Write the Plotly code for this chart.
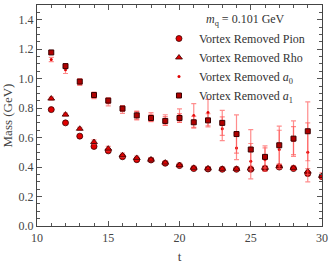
import plotly.graph_objects as go

t = list(range(11, 31))
t_a = list(range(11, 30))

pion = [0.79, 0.70, 0.61, 0.54, 0.51, 0.47, 0.45, 0.448, 0.426, 0.41, 0.39, 0.387, 0.385, 0.385, 0.385, 0.39, 0.40, 0.39, 0.356, 0.335]
pion_err = [0.008, 0.008, 0.008, 0.01, 0.01, 0.01, 0.01, 0.01, 0.01, 0.01, 0.01, 0.01, 0.01, 0.01, 0.012, 0.012, 0.012, 0.012, 0.015, 0.015]
rho = [0.865, 0.756, 0.66, 0.57, 0.525, 0.48, 0.462, 0.45, 0.43, 0.413, 0.395, 0.39, 0.388, 0.388, 0.39, 0.395, 0.405, 0.395, 0.37, 0.34]
rho_err = [0.01, 0.01, 0.01, 0.015, 0.015, 0.015, 0.012, 0.012, 0.012, 0.012, 0.012, 0.012, 0.012, 0.012, 0.015, 0.015, 0.015, 0.015, 0.02, 0.02]
a0 = [1.13, 1.06, 0.975, 0.885, 0.84, 0.79, 0.75, 0.74, 0.72, 0.75, 0.75, 0.77, 0.66, 0.53, 0.44, 0.45, 0.52, 0.58, 0.50]
a0_err = [0.015, 0.025, 0.02, 0.02, 0.025, 0.025, 0.03, 0.03, 0.035, 0.045, 0.08, 0.09, 0.08, 0.08, 0.12, 0.08, 0.13, 0.095, 0.2]
a1 = [1.178, 1.085, 0.98, 0.889, 0.851, 0.797, 0.751, 0.733, 0.713, 0.733, 0.704, 0.717, 0.70, 0.624, 0.519, 0.469, 0.548, 0.593, 0.643]
a1_err = [0.01, 0.015, 0.02, 0.02, 0.02, 0.02, 0.025, 0.025, 0.03, 0.03, 0.04, 0.045, 0.085, 0.13, 0.135, 0.075, 0.13, 0.12, 0.2]

x_ticks = [10, 15, 20, 25, 30]
y_ticks = [0.0, 0.2, 0.4, 0.6, 0.8, 1.0, 1.2, 1.4]
legend_title = "<i>m</i><sub>q</sub> = 0.101 GeV"

FONT = "Liberation Serif"
ERR = "rgba(255,80,80,0.65)"
RED = "#e00000"
EDGE = "#3a0000"

def err(v):
    return dict(type="data", array=v, color=ERR, thickness=1.2, width=2.5)

fig = go.Figure()
fig.add_trace(go.Scatter(x=t, y=pion, mode="markers", name="Vortex Removed Pion",
                         error_y=err(pion_err),
                         marker=dict(symbol="circle", size=6, color=RED, line=dict(color=EDGE, width=0.8))))
fig.add_trace(go.Scatter(x=t, y=rho, mode="markers", name="Vortex Removed Rho",
                         error_y=err(rho_err),
                         marker=dict(symbol="triangle-up", size=6, color=RED, line=dict(color=EDGE, width=0.8))))
fig.add_trace(go.Scatter(x=t_a, y=a0, mode="markers", name="Vortex Removed <i>a</i><sub>0</sub>",
                         error_y=err(a0_err),
                         marker=dict(symbol="circle", size=3, color=RED, line=dict(width=0))))
fig.add_trace(go.Scatter(x=t_a, y=a1, mode="markers", name="Vortex Removed <i>a</i><sub>1</sub>",
                         error_y=err(a1_err),
                         marker=dict(symbol="square", size=5, color="#b00000", line=dict(color=EDGE, width=1))))

axis_common = dict(showline=True, linecolor="#444", linewidth=1.2, mirror="allticks",
                   ticks="inside", tickcolor="#555", ticklen=5, tickwidth=1,
                   showgrid=False, zeroline=False, automargin=False,
                   tickfont=dict(family=FONT, size=12, color="#444"))

fig.update_xaxes(range=[10, 30], tickvals=x_ticks, ticktext=[str(v) for v in x_ticks],
                 minor=dict(ticks="inside", dtick=1, ticklen=3, tickcolor="#555", showgrid=False),
                 title=dict(text="t", font=dict(family=FONT, size=13, color="#444"), standoff=8),
                 **axis_common)
fig.update_yaxes(range=[0, 1.5], tickvals=y_ticks, ticktext=[f"{v:.1f}" for v in y_ticks],
                 minor=dict(ticks="inside", dtick=0.05, tick0=0, ticklen=3, tickcolor="#555", showgrid=False),
                 title=dict(text="Mass (GeV)", font=dict(family=FONT, size=13, color="#444"), standoff=2),
                 **axis_common)

fig.add_annotation(text=legend_title, xref="paper", yref="paper", x=0.733, y=0.932,
                   xanchor="center", yanchor="middle", showarrow=False,
                   font=dict(family=FONT, size=12, color="#333"))

fig.update_layout(
    width=332, height=264,
    margin=dict(l=37, r=10, t=5, b=38),
    paper_bgcolor="white", plot_bgcolor="white",
    font=dict(family=FONT, color="#333"),
    legend=dict(x=0.428, y=0.914, xanchor="left", yanchor="top",
                bgcolor="rgba(0,0,0,0)", borderwidth=0,
                font=dict(family=FONT, size=12, color="#333"),
                tracegroupgap=0),
    showlegend=True,
)

fig.write_html("out.html", config={"displayModeBar": False},
               post_script="document.body.style.margin='0';")
